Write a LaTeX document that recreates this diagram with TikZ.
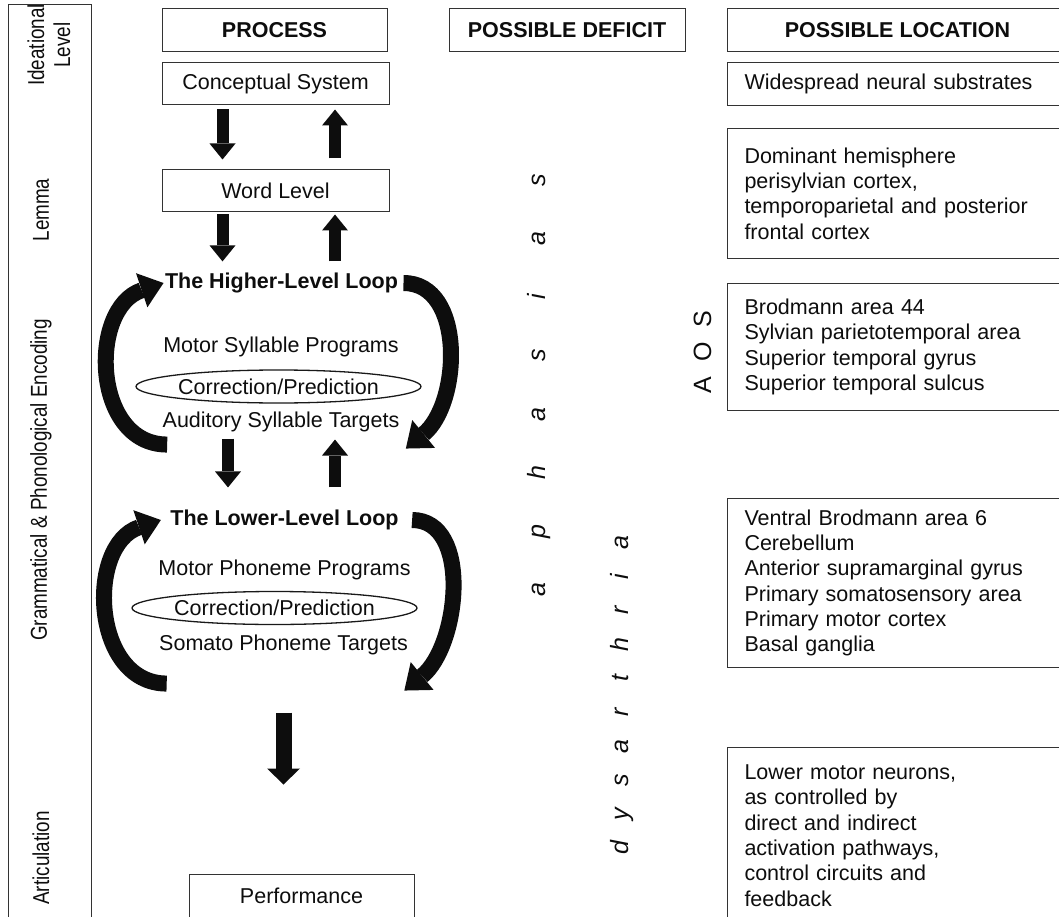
\documentclass[tikz,border=0pt]{standalone}
\usepackage{fontspec}
\setmainfont{Liberation Sans}
\newfontfamily\narrowsf{Liberation Sans}[FakeStretch=0.82]
\usetikzlibrary{arrows.meta,shapes.geometric,calc}

\tikzset{
  procbox/.style={draw=black!80, line width=1pt, minimum width=227pt, minimum height=42pt},
  headbox/.style={draw=black!80, line width=1pt, minimum height=43pt, font=\fontsize{21.5}{25}\selectfont\bfseries},
  locbox/.style={draw=black!80, line width=1pt, anchor=north west, align=left, text width=305pt, inner xsep=17pt},
  corrbox/.style={ellipse, draw=black!90, line width=1.3pt, minimum width=285pt, minimum height=33pt, inner sep=0pt},
  levellabel/.style={rotate=90, align=center, font=\narrowsf\fontsize{23}{26}\selectfont},
  defletter/.style={rotate=90, anchor=base, font=\fontsize{25}{25}\selectfont\itshape},
  fatarrow/.style={line width=12pt, -{Triangle[width=26pt,length=16pt,line width=0pt]}},
  bigarrow/.style={line width=16pt, -{Triangle[width=33pt,length=16pt,line width=0pt]}},
  looparrow/.style={line width=16pt, -{Triangle[width=36pt,length=23pt,line width=0pt]}},
}

\begin{document}
\begin{tikzpicture}[x=1pt, y=-1pt, font=\fontsize{21.5}{25.3}\selectfont, color=black!95]
\useasboundingbox (0,0) rectangle (1059,917);

% level column
\draw[black!80, line width=1pt] (8,930) -- (8,5) -- (91,5) -- (91,930);
\node[levellabel] (lvideal) at (49,45) {Ideational\\Level};
\node[levellabel] (lvlemma) at (41,210) {Lemma};
\node[levellabel] (lvgram) at (41,480) {Grammatical \& Phonological Encoding};
\node[levellabel] (lvartic) at (41,858) {Articulation};

% headers
\node[headbox, minimum width=225pt] (hproc) at (274.5,30.5) {PROCESS};
\node[headbox, minimum width=236pt] (hdef) at (567,30.5) {POSSIBLE DEFICIT};
\node[headbox, minimum width=340pt, anchor=west] (hloc) at (727,30.5) {POSSIBLE LOCATION};

% process column
\node[procbox] (concept) at (275.5,84) {Conceptual System};
\node[procbox] (word) at (275.5,191) {Word Level};
\node[font=\fontsize{21.5}{25.3}\selectfont\bfseries] (hloop) at (281.5,283) {The Higher-Level Loop};
\node (msp) at (281,347) {Motor Syllable Programs};
\node[corrbox] (corrhi) at (278.5,386.5) {Correction/Prediction};
\node (aud) at (281,422) {Auditory Syllable Targets};
\node[font=\fontsize{21.5}{25.3}\selectfont\bfseries] (lloop) at (284.5,520) {The Lower-Level Loop};
\node (mpp) at (284.5,570) {Motor Phoneme Programs};
\node[corrbox] (corrlo) at (274.5,608) {Correction/Prediction};
\node (spt) at (283.5,645) {Somato Phoneme Targets};
\node[procbox, minimum width=225pt, minimum height=44pt] (perf) at (301.5,896) {Performance};

\draw[fatarrow, shorten <=4pt, shorten >=10pt] ($(concept.south)+(-53,0)$) -- ($(word.north)+(-53,0)$);
\draw[fatarrow, shorten <=11pt, shorten >=4pt] ($(word.north)+(59.5,0)$) -- ($(concept.south)+(59.5,0)$);
\draw[fatarrow, shorten <=2pt, shorten >=8pt] ($(word.south)+(-53,0)$) -- ($(word.south |- hloop.north)+(-53,0)$);
\draw[fatarrow, shorten <=8pt, shorten >=2pt] ($(word.south |- hloop.north)+(59.5,0)$) -- ($(word.south)+(59.5,0)$);
\draw[fatarrow, shorten <=3pt, shorten >=19pt] ($(aud.south)+(-53,0)$) -- ($(aud.south |- lloop.north)+(-53,0)$);
\draw[fatarrow, shorten <=19pt, shorten >=4pt] ($(aud.south |- lloop.north)+(54,0)$) -- ($(aud.south)+(54,0)$);
\draw[bigarrow, shorten <=54pt, shorten >=89pt] (spt.south) -- (spt.south |- perf.north);

% loops
\draw[looparrow] ([shift={(8,9)}]aud.south west) .. controls +(-75,0) and +(-75,25) .. ([xshift=2pt]hloop.west);
\draw[looparrow] ([xshift=2pt]hloop.east) .. controls +(62,0) and +(55,-45) .. ([shift={(3,13)}]aud.south east);
\draw[looparrow] ([shift={(11,25)}]spt.south west) .. controls +(-75,0) and +(-75,25) .. ([xshift=-6pt]lloop.west);
\draw[looparrow] ([xshift=10pt]lloop.east) .. controls +(60,0) and +(55,-45) .. ([shift={(-7,32)}]spt.south east);

% deficits
\foreach \ch [count=\k from 0] in {a,p,h,a,s,i,a,s}
  \node[defletter] (aph-\k) at (545,{590-58.6*\k}) {\ch};
\foreach \ch [count=\k from 0] in {d,y,s,a,r,t,h,r,i,a}
  \node[defletter] (dys-\k) at (628,{848-33.9*\k}) {\ch};
\foreach \ch [count=\k from 0] in {A,O,S}
  \node[defletter, font=\fontsize{25}{25}\selectfont] (aos-\k) at (711,{385-33*\k}) {\ch};

% locations
\node[locbox, minimum height=43pt] (locwide) at (727,62) {Widespread neural substrates};
\node[locbox, minimum height=130pt] (loclemma) at (727,128) {Dominant hemisphere\\perisylvian cortex,\\temporoparietal and posterior\\frontal cortex};
\node[locbox, minimum height=127pt] (locaos) at (727,283) {Brodmann area 44\\Sylvian parietotemporal area\\Superior temporal gyrus\\Superior temporal sulcus};
\node[locbox, minimum height=169pt] (locdys) at (727,498) {Ventral Brodmann area 6\\Cerebellum\\Anterior supramarginal gyrus\\Primary somatosensory area\\Primary motor cortex\\Basal ganglia};
\node[locbox, minimum height=176pt] (locart) at (727,747) {Lower motor neurons,\\as controlled by\\direct and indirect\\activation pathways,\\control circuits and\\feedback};
\end{tikzpicture}
\end{document}
